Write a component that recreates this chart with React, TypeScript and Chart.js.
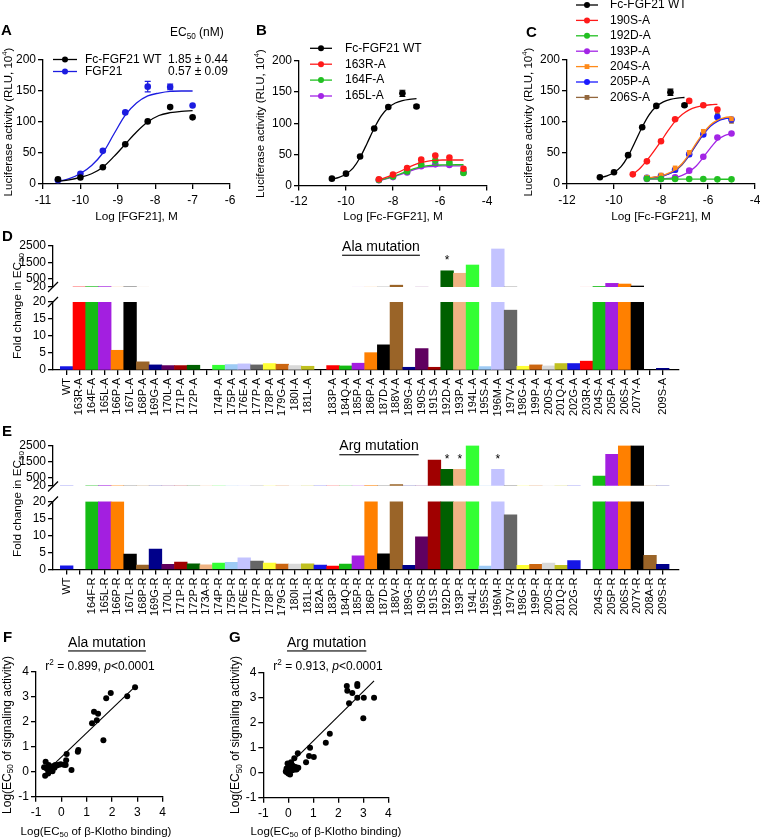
import React, { useEffect, useRef } from 'react';
import { Chart, registerables } from 'chart.js';

Chart.register(...registerables);

const FONT = "'Liberation Sans', Arial, Helvetica, sans-serif";

// ---------------- Panel A data ----------------
const A_SERIES = ['Fc-FGF21 WT', 'FGF21'];
const A_EC50 = ['1.85 ± 0.44', '0.57 ± 0.09'];
const A_DOSE = [-10.6, -10.0, -9.4, -8.8, -8.2, -7.6, -7.0];
const A_WT = [7.6, 10.5, 27, 64, 101, 124, 107.5];
const A_FGF21 = [6, 16.5, 53.5, 115.5, 157, 156.5, 126.5];
const A_FGF21_ERR = [0, 0, 0, 0, 8.5, 4.5, 0];
const A_FIT_X = [-10.6, -10.3, -10.0, -9.7, -9.4, -9.1, -8.8, -8.5, -8.2, -7.9, -7.6, -7.3, -7.0];
const A_WT_FIT = [4.5, 6.8, 10.8, 16.5, 27, 44.5, 64.3, 84, 100, 110.5, 115, 117.3, 118.3];
const A_FGF21_FIT = [4, 8.6, 17, 30, 50, 81, 111, 130.5, 142, 146.7, 149.5, 150, 150];

// ---------------- Panels B & C data ----------------
const WT_DOSE = [-10.6, -10.0, -9.4, -8.8, -8.2, -7.6, -7.0];
const WT_ACT = [11, 19, 46.5, 91.5, 126, 148, 127];
const WT_ERR = [0, 0, 0, 0, 0, 5, 2];
const WT_FIT_X = [-10.6, -10.3, -10.0, -9.7, -9.4, -9.1, -8.8, -8.5, -8.2, -7.9, -7.6, -7.3, -7.0];
const WT_FIT = [10, 13, 18.5, 28, 45, 68, 92, 112, 125, 132.5, 136.5, 138.5, 139.5];
const MUT_DOSE = [-8.6, -8.0, -7.4, -6.8, -6.2, -5.6, -5.0];
const MUT_FIT_X = [-8.6, -8.3, -8.0, -7.7, -7.4, -7.1, -6.8, -6.5, -6.2, -5.9, -5.6, -5.3, -5.0];

const B_SERIES = ['Fc-FGF21 WT', '163R-A', '164F-A', '165L-A'];
const B_163R = [10, 17.5, 28, 41.5, 48, 45, 27];
const B_164F = [9, 14.5, 22.5, 34, 40, 37, 20];
const B_165L = [8.5, 13.5, 21, 31, 34, 33, 21];
const B_163R_FIT = [9.5, 13, 17.5, 22.5, 28, 33, 37, 39.3, 40.5, 41, 41, 41, 41];
const B_164F_FIT = [8.5, 11, 14.5, 18.5, 23, 27, 30, 31.8, 32.7, 33, 33.2, 33.3, 33.3];
const B_165L_FIT = [8, 10.5, 13.5, 17.5, 21.5, 25.5, 28.5, 30.2, 31, 31.4, 31.5, 31.5, 31.5];

const C_SERIES = ['Fc-FGF21 WT', '190S-A', '192D-A', '193P-A', '204S-A', '205P-A', '206S-A'];
const C_190S_DOSE = [-9.2, -8.6, -8.0, -7.4, -6.8, -6.2, -5.6];
const C_190S = [15.6, 36.5, 69, 104.5, 134, 127, 120];
const C_190S_FIT_X = [-9.2, -8.9, -8.6, -8.3, -8.0, -7.7, -7.4, -7.1, -6.8, -6.5, -6.2, -5.9, -5.6];
const C_190S_FIT = [15.5, 25, 38, 53, 69, 86, 101, 112, 119.5, 124, 126.5, 127.8, 128.5];
const C_192D = [8.5, 8, 8, 8, 8, 7.5, 7.5];
const C_192D_FIT = [8.2, 8.2, 8.1, 8.1, 8.0, 8.0, 7.9, 7.9, 7.8, 7.8, 7.7, 7.7, 7.6];
const C_193P = [8, 8, 11, 21.5, 44, 75, 81.5];
const C_193P_FIT = [8, 8, 8.3, 9, 10.5, 14, 20, 29, 43, 58, 71, 78, 81.5];
const C_204S = [11, 14.5, 26, 51, 85, 119, 105];
const C_204S_FIT = [10, 11, 13, 17, 23, 33, 48, 66, 82, 95, 103, 107, 108.5];
const C_205P = [10, 13, 23, 48, 80, 108, 104];
const C_205P_FIT = [9.5, 10.5, 12.5, 16, 22, 32, 46, 64, 80, 93, 101, 105, 106.5];
const C_206S = [10, 13, 22, 47, 81, 112, 101];
const C_206S_FIT = [9.5, 10.5, 12.5, 16, 21.5, 31, 46, 63, 80, 94, 102, 106, 107.5];

// ---------------- Panel D data (Ala mutation) ----------------
const D_LABELS = ['WT', '163R-A', '164F-A', '165L-A', '166P-A', '167L-A', '168P-A', '169G-A', '170L-A', '171P-A', '172P-A', '',
  '174P-A', '175P-A', '176E-A', '177P-A', '178P-A', '179G-A', '180I-A', '181L-A', '',
  '183P-A', '184Q-A', '185P-A', '186P-A', '187D-A', '188V-A', '189G-A', '190S-A', '191S-A', '192D-A', '193P-A', '194L-A',
  '195S-A', '196M-A', '197V-A', '198G-A', '199P-A', '200S-A', '201Q-A', '202G-A', '203R-A', '204S-A', '205P-A', '206S-A',
  '207Y-A', '', '209S-A'];
const D_FOLD = [1.0, 20, 40, 40, 5.8, 20, 2.4, 1.5, 1.3, 1.3, 1.4, null,
  1.4, 1.6, 1.8, 1.5, 1.9, 1.7, 1.3, 1.1, null,
  1.3, 1.2, 2.0, 5.1, 7.4, 130, 0.8, 6.3, 0.8, 1000, 850, 1350,
  1.0, 2320, 17.6, 1.1, 1.5, 1.2, 1.9, 1.9, 2.6, 50, 240, 200,
  80, null, 0.5];
const D_STARS = [30];

// ---------------- Panel E data (Arg mutation) ----------------
const E_LABELS = ['WT', '', '164F-R', '165L-R', '166P-R', '167L-R', '168P-R', '169G-R', '170L-R', '171P-R', '172P-R', '173A-R',
  '174P-R', '175P-R', '176E-R', '177P-R', '178P-R', '179G-R', '180I-R', '181L-R', '182A-R',
  '183P-R', '184Q-R', '185P-R', '186P-R', '187D-R', '188V-R', '189G-R', '190S-R', '191S-R', '192D-R', '193P-R', '194L-R',
  '195S-R', '196M-R', '197V-R', '198G-R', '199P-R', '200S-R', '201Q-R', '202G-R', '', '204S-R', '205P-R', '206S-R',
  '207Y-R', '208A-R', '209S-R'];
const E_FOLD = [1.1, null, 20, 40, 20, 4.5, 1.3, 6.0, 1.5, 2.2, 1.7, 1.4,
  1.9, 2.1, 3.4, 2.5, 1.9, 1.6, 1.6, 1.7, 1.3,
  1.0, 1.6, 4.0, 40, 4.6, 100, 1.2, 9.6, 1600, 1030, 1030, 2500,
  1.0, 1030, 16.1, 1.2, 1.5, 1.9, 1.2, 2.6, null, 620, 1950, 2500,
  2500, 4.2, 1.5];
const E_STARS = [30, 31, 34];

const UPPER_TICKS = [20, 500, 1500, 2500];

// ---------------- Panels F & G data ----------------
const F_BIND = [2.91, 1.95, 1.77, 2.60, 1.29, 1.45, 1.40, 1.21, 1.66, 0.65, 0.67, 0.21, 0.19, 0.17, 0.40, -0.02, -0.62, -0.64,
  -0.68, -0.57, -0.48, -0.40, -0.30, -0.50, -0.37, -0.24, -0.52, -0.42, -0.35, -0.18, -0.60, -0.27, 0.10, -0.10, -0.45, -0.55];
const F_SIG = [3.38, 3.15, 2.94, 3.02, 2.40, 2.32, 2.06, 1.94, 1.26, 0.80, 0.87, 0.71, 0.46, 0.27, 0.07, 0.30, 0.40, -0.16,
  0.18, 0.14, 0.00, 0.20, 0.23, 0.27, 0.07, 0.27, -0.07, 0.13, 0.02, 0.25, 0.16, 0.16, 0.28, 0.28, 0.08, 0.10];
const F_FIT_X = [-0.25, 2.91];
const F_FIT_Y = [0.34, 3.40];
const F_STAT = 'r^{2} = 0.899, ~{p}<0.0001';

const G_BIND = [2.34, 2.36, 2.76, 2.76, 2.56, 3.02, 3.43, 2.76, 2.43, 3.00, 1.66, 1.50, 0.87, 1.02, 0.83, 0.71, 0.38, 0.24,
  0.11, -0.07, 0.00, 0.07, -0.03, 0.13, 0.20, 0.29, 0.40, 0.07, 0.16, 0.26, -0.07, 0.33, 0.00, 0.18, -0.10];
const G_SIG = [3.47, 3.28, 3.55, 3.47, 3.19, 3.00, 3.00, 3.00, 2.78, 2.18, 1.56, 1.20, 1.00, 0.63, 0.67, 0.42, 0.78, 0.58,
  0.42, 0.17, -0.03, -0.07, 0.37, 0.30, 0.20, 0.23, 0.20, 0.10, 0.10, 0.13, 0.03, 0.13, 0.20, 0.28, 0.05];
const G_FIT_X = [0.05, 3.43];
const G_FIT_Y = [0.33, 3.67];
const G_STAT = 'r^{2} = 0.913, ~{p}<0.0001';

// ---------------- styles ----------------
const PALETTE = ['#1616e6', '#ff0000', '#14bb14', '#a31fe0', '#ff8000', '#000000', '#9a6428', '#00008a', '#600060', '#a00000',
  '#006000', '#efb383', '#33ff33', '#9ecbf5', '#c3c3ff', '#666666', '#ffff33', '#cc6611', '#d9d9d9', '#c0c020'];
const COL = {
  black: '#000000', blue: '#1c1ce0', red: '#ff1a1a', green: '#22c022', purple: '#a325e6',
  orange: '#ff8a1a', blue2: '#1a1aff', brown: '#93673c',
};
const BAR_X_MIN = -1.08;
const BAR_X_MAX = 48.285;

type Rect = { x: number; y: number; w: number; h: number };
type Area = { l: number; t: number; r: number; b: number };
type Run = { t: string; sub?: boolean; sup?: boolean; it?: boolean };
type TextItem = { s: string; x: number; y: number; size: number; bold?: boolean; align?: string; rot?: boolean; underline?: boolean };

function runs(s: string): Run[] {
  const out: Run[] = [];
  const re = /([_^~])\{([^}]*)\}/g;
  let last = 0;
  let m: any;
  while ((m = re.exec(s))) {
    if (m.index > last) out.push({ t: s.slice(last, m.index) });
    out.push({ t: m[2], sub: m[1] === '_', sup: m[1] === '^', it: m[1] === '~' });
    last = re.lastIndex;
  }
  if (last < s.length) out.push({ t: s.slice(last) });
  return out;
}

function drawText(ctx: CanvasRenderingContext2D, item: TextItem, ox: number, oy: number) {
  const rs = runs(item.s);
  ctx.save();
  ctx.translate(item.x - ox, item.y - oy);
  if (item.rot) ctx.rotate(-Math.PI / 2);
  ctx.fillStyle = '#000';
  ctx.textBaseline = 'middle';
  ctx.textAlign = 'left';
  const fontOf = (r: Run) =>
    `${r.it ? 'italic ' : ''}${item.bold ? 'bold ' : ''}${r.sub || r.sup ? item.size * 0.68 : item.size}px ${FONT}`;
  let total = 0;
  const widths = rs.map((r) => {
    ctx.font = fontOf(r);
    const w = ctx.measureText(r.t).width;
    total += w;
    return w;
  });
  let x = item.align === 'center' ? -total / 2 : item.align === 'right' ? -total : 0;
  const start = x;
  rs.forEach((r, i) => {
    ctx.font = fontOf(r);
    const dy = r.sub ? item.size * 0.3 : r.sup ? -item.size * 0.33 : 0;
    ctx.fillText(r.t, x, dy);
    x += widths[i];
  });
  if (item.underline) ctx.fillRect(start, item.size * 0.55, total, 1.1);
  ctx.restore();
}

function deco(rect: Rect, items: TextItem[], extra?: (chart: any, ctx: CanvasRenderingContext2D) => void) {
  return {
    id: 'deco',
    afterDraw(chart: any) {
      const ctx = chart.ctx;
      if (extra) extra(chart, ctx);
      items.forEach((it) => drawText(ctx, it, rect.x, rect.y));
    },
  };
}

const BASE = {
  responsive: false,
  animation: false,
  devicePixelRatio: 1,
  events: [],
  plugins: { legend: { display: false }, tooltip: { enabled: false } },
};

function xScale(extra: any, height: number) {
  const { ticks, ...rest } = extra;
  return {
    type: 'linear',
    position: 'bottom',
    offset: false,
    grid: { display: true, drawOnChartArea: false, drawTicks: true, tickLength: 5, color: '#000', lineWidth: 1.3, offset: false },
    border: { display: true, color: '#000', width: 1.3 },
    ticks: {
      color: '#000', font: { family: FONT, size: 12 }, padding: 3, maxRotation: 0, autoSkip: false,
      callback: (v: any) => String(v), ...(ticks || {}),
    },
    afterFit: (s: any) => { s.height = height; },
    ...rest,
  };
}

function yScale(extra: any, width: number) {
  const { ticks, ...rest } = extra;
  return {
    type: 'linear',
    position: 'left',
    grid: { display: true, drawOnChartArea: false, drawTicks: true, tickLength: 5, color: '#000', lineWidth: 1.3 },
    border: { display: true, color: '#000', width: 1.3 },
    ticks: { color: '#000', font: { family: FONT, size: 12 }, padding: 2, autoSkip: false, callback: (v: any) => String(v), ...(ticks || {}) },
    afterFit: (s: any) => { s.width = width; },
    ...rest,
  };
}

type Series = { label: string; color: string; px: number[]; py: number[]; cx: number[]; cy: number[]; err?: number[]; shape?: string };

function curveChart(rect: Rect, area: Area, xr: number[], series: Series[], legend: any, texts: TextItem[]) {
  const datasets: any[] = [];
  series.forEach((s) => {
    datasets.push({
      label: s.label, data: s.px.map((x, i) => ({ x, y: s.py[i] })), showLine: false,
      pointRadius: 3.3, pointStyle: s.shape || 'circle', pointBackgroundColor: s.color, pointBorderColor: s.color,
      pointBorderWidth: 0, borderColor: s.color,
    });
    datasets.push({
      label: s.label + ' fit', data: s.cx.map((x, i) => ({ x, y: s.cy[i] })), showLine: true, pointRadius: 0,
      borderColor: s.color, borderWidth: 1.3, cubicInterpolationMode: 'monotone', fill: false,
    });
  });
  const extra = (chart: any, ctx: CanvasRenderingContext2D) => {
    const xs = chart.scales.x;
    const ys = chart.scales.y;
    series.forEach((s) => {
      if (!s.err) return;
      s.err.forEach((e, i) => {
        if (!e) return;
        const x = xs.getPixelForValue(s.px[i]);
        const y1 = ys.getPixelForValue(s.py[i] + e);
        const y2 = ys.getPixelForValue(s.py[i] - e);
        ctx.save();
        ctx.strokeStyle = s.color;
        ctx.lineWidth = 1.2;
        ctx.beginPath();
        ctx.moveTo(x, y1); ctx.lineTo(x, y2);
        ctx.moveTo(x - 3, y1); ctx.lineTo(x + 3, y1);
        ctx.moveTo(x - 3, y2); ctx.lineTo(x + 3, y2);
        ctx.stroke();
        ctx.restore();
      });
    });
    series.forEach((s, k) => {
      const y = legend.y0 + k * legend.dy - rect.y;
      const x1 = legend.x1 - rect.x;
      const x2 = legend.x2 - rect.x;
      ctx.save();
      ctx.strokeStyle = s.color;
      ctx.lineWidth = 1.3;
      ctx.beginPath(); ctx.moveTo(x1, y); ctx.lineTo(x2, y); ctx.stroke();
      ctx.fillStyle = s.color;
      const xm = (x1 + x2) / 2;
      if (s.shape === 'rect') ctx.fillRect(xm - 2.4, y - 2.4, 4.8, 4.8);
      else { ctx.beginPath(); ctx.arc(xm, y, 3, 0, Math.PI * 2); ctx.fill(); }
      ctx.fillStyle = '#000';
      ctx.font = `12px ${FONT}`;
      ctx.textBaseline = 'middle';
      ctx.textAlign = 'left';
      ctx.fillText(s.label, legend.tx - rect.x, y);
      ctx.restore();
    });
  };
  return {
    type: 'line',
    data: { datasets },
    options: {
      ...BASE,
      layout: { padding: { left: 0, top: area.t - rect.y, right: rect.x + rect.w - area.r, bottom: 0 } },
      scales: {
        x: xScale({ min: xr[0], max: xr[1], ticks: { stepSize: xr[2], padding: 4 } }, rect.y + rect.h - area.b),
        y: yScale({ min: 0, max: 200, ticks: { stepSize: 50 } }, area.l - rect.x),
      },
    },
    plugins: [deco(rect, texts, extra)],
  };
}

function barChart(rect: Rect, area: Area, labels: string[], values: (number | null)[], low: boolean, texts: TextItem[], stars: number[]) {
  const extra = (chart: any, ctx: CanvasRenderingContext2D) => {
    ctx.save();
    ctx.strokeStyle = '#000';
    ctx.fillStyle = '#000';
    ctx.lineWidth = 1.3;
    if (low) {
      const ax = area.l - rect.x;
      const y1 = area.t - rect.y;
      const y0 = y1 - 15;
      ctx.beginPath();
      ctx.moveTo(ax - 5, y0 + 5); ctx.lineTo(ax + 5, y0 - 5);
      ctx.moveTo(ax - 5, y1 + 5); ctx.lineTo(ax + 5, y1 - 5);
      ctx.stroke();
    } else {
      const xs = chart.scales.x;
      const ys = chart.scales.y;
      ctx.font = `12px ${FONT}`;
      ctx.textAlign = 'center';
      ctx.textBaseline = 'middle';
      stars.forEach((i) => {
        const v = values[i] as number;
        ctx.fillText('*', xs.getPixelForValue(i), ys.getPixelForValue(v) - 10);
      });
    }
    ctx.restore();
  };
  const xs = xScale({
    min: BAR_X_MIN, max: BAR_X_MAX, display: low,
    ticks: { font: { family: FONT, size: 11 }, maxRotation: 90, minRotation: 90, padding: 3, callback: (v: any) => labels[v] ?? '' },
    afterBuildTicks: (s: any) => { s.ticks = labels.map((_, i) => ({ value: i })); },
  }, low ? rect.y + rect.h - area.b : 0);
  const ys = low
    ? yScale({ min: 0, max: 20, ticks: { stepSize: 5 } }, area.l - rect.x)
    : yScale({ min: 20, max: 2500, afterBuildTicks: (s: any) => { s.ticks = UPPER_TICKS.map((v) => ({ value: v })); } }, area.l - rect.x);
  return {
    type: 'bar',
    data: {
      datasets: [{
        data: values.map((v, i) => ({ x: i, y: v })),
        backgroundColor: values.map((_, i) => PALETTE[i % PALETTE.length]),
        borderWidth: 0, barPercentage: 1, categoryPercentage: 1, clip: 0,
      }],
    },
    options: {
      ...BASE,
      layout: { padding: { left: 0, top: area.t - rect.y, right: rect.x + rect.w - area.r, bottom: low ? 0 : rect.y + rect.h - area.b } },
      scales: { x: xs, y: ys },
    },
    plugins: [deco(rect, texts, extra)],
  };
}

function scatterChart(rect: Rect, area: Area, px: number[], py: number[], lx: number[], ly: number[], texts: TextItem[]) {
  return {
    type: 'scatter',
    data: {
      datasets: [
        { data: px.map((x, i) => ({ x, y: py[i] })), pointRadius: 3, pointBackgroundColor: '#000', pointBorderWidth: 0, showLine: false },
        { data: lx.map((x, i) => ({ x, y: ly[i] })), showLine: true, pointRadius: 0, borderColor: '#000', borderWidth: 1.1 },
      ],
    },
    options: {
      ...BASE,
      layout: { padding: { left: 0, top: area.t - rect.y, right: rect.x + rect.w - area.r, bottom: 0 } },
      scales: {
        x: xScale({ min: -1, max: 4, ticks: { stepSize: 1, padding: 4 } }, rect.y + rect.h - area.b),
        y: yScale({ min: -1, max: 4, ticks: { stepSize: 1 } }, area.l - rect.x),
      },
    },
    plugins: [deco(rect, texts)],
  };
}

const LUC = 'Luciferase activity (RLU, 10^{4})';

const R_A: Rect = { x: 0, y: 0, w: 250, h: 240 };
const R_B: Rect = { x: 250, y: 0, w: 255, h: 240 };
const R_C: Rect = { x: 505, y: 0, w: 270, h: 240 };
const R_DL: Rect = { x: 0, y: 225, w: 700, h: 200 };
const R_DH: Rect = { x: 0, y: 225, w: 700, h: 75 };
const R_EL: Rect = { x: 0, y: 420, w: 700, h: 200 };
const R_EH: Rect = { x: 0, y: 420, w: 700, h: 75 };
const R_F: Rect = { x: 0, y: 625, w: 225, h: 213 };
const R_G: Rect = { x: 225, y: 625, w: 200, h: 213 };

const SPECS: { rect: Rect; make: () => any }[] = [
  {
    rect: R_A,
    make: () => curveChart(R_A, { l: 43, t: 60, r: 230, b: 184 }, [-11, -6, 1], [
      { label: A_SERIES[0], color: COL.black, px: A_DOSE, py: A_WT, cx: A_FIT_X, cy: A_WT_FIT },
      { label: A_SERIES[1], color: COL.blue, px: A_DOSE, py: A_FGF21, cx: A_FIT_X, cy: A_FGF21_FIT, err: A_FGF21_ERR },
    ], { x1: 53, x2: 77, tx: 85, y0: 59.5, dy: 12 }, [
      { s: 'A', x: 1, y: 31, size: 15, bold: true },
      { s: 'EC_{50} (nM)', x: 170, y: 33, size: 12 },
      { s: A_EC50[0], x: 168, y: 59.5, size: 12 },
      { s: A_EC50[1], x: 168, y: 71.5, size: 12 },
      { s: LUC, x: 9, y: 122, size: 11.5, rot: true, align: 'center' },
      { s: 'Log [FGF21], M', x: 136.5, y: 217, size: 11.8, align: 'center' },
    ]),
  },
  {
    rect: R_B,
    make: () => curveChart(R_B, { l: 299, t: 61, r: 487, b: 185.5 }, [-12, -4, 2], [
      { label: B_SERIES[0], color: COL.black, px: WT_DOSE, py: WT_ACT, cx: WT_FIT_X, cy: WT_FIT, err: WT_ERR },
      { label: B_SERIES[1], color: COL.red, px: MUT_DOSE, py: B_163R, cx: MUT_FIT_X, cy: B_163R_FIT },
      { label: B_SERIES[2], color: COL.green, px: MUT_DOSE, py: B_164F, cx: MUT_FIT_X, cy: B_164F_FIT },
      { label: B_SERIES[3], color: COL.purple, px: MUT_DOSE, py: B_165L, cx: MUT_FIT_X, cy: B_165L_FIT },
    ], { x1: 310, x2: 332, tx: 345, y0: 48.3, dy: 15.9 }, [
      { s: 'B', x: 256, y: 31, size: 15, bold: true },
      { s: LUC, x: 261, y: 123.5, size: 11.5, rot: true, align: 'center' },
      { s: 'Log [Fc-FGF21], M', x: 393, y: 217, size: 11.8, align: 'center' },
    ]),
  },
  {
    rect: R_C,
    make: () => curveChart(R_C, { l: 567, t: 60, r: 755, b: 184 }, [-12, -4, 2], [
      { label: C_SERIES[0], color: COL.black, px: WT_DOSE, py: WT_ACT, cx: WT_FIT_X, cy: WT_FIT, err: WT_ERR },
      { label: C_SERIES[1], color: COL.red, px: C_190S_DOSE, py: C_190S, cx: C_190S_FIT_X, cy: C_190S_FIT },
      { label: C_SERIES[2], color: COL.green, px: MUT_DOSE, py: C_192D, cx: MUT_FIT_X, cy: C_192D_FIT },
      { label: C_SERIES[3], color: COL.purple, px: MUT_DOSE, py: C_193P, cx: MUT_FIT_X, cy: C_193P_FIT },
      { label: C_SERIES[4], color: COL.orange, px: MUT_DOSE, py: C_204S, cx: MUT_FIT_X, cy: C_204S_FIT, shape: 'rect' },
      { label: C_SERIES[5], color: COL.blue2, px: MUT_DOSE, py: C_205P, cx: MUT_FIT_X, cy: C_205P_FIT },
      { label: C_SERIES[6], color: COL.brown, px: MUT_DOSE, py: C_206S, cx: MUT_FIT_X, cy: C_206S_FIT, shape: 'rect' },
    ], { x1: 576, x2: 598, tx: 610, y0: 5, dy: 15.4 }, [
      { s: 'C', x: 526, y: 33, size: 15, bold: true },
      { s: LUC, x: 529, y: 122, size: 11.5, rot: true, align: 'center' },
      { s: 'Log [Fc-FGF21], M', x: 661, y: 217, size: 11.8, align: 'center' },
    ]),
  },
  {
    rect: R_DL,
    make: () => barChart(R_DL, { l: 53, t: 302, r: 679, b: 370 }, D_LABELS, D_FOLD, true, [
      { s: 'D', x: 2, y: 236.5, size: 15, bold: true },
      { s: 'Ala mutation', x: 381, y: 247, size: 14, align: 'center', underline: true },
      { s: 'Fold change in EC_{50}', x: 18, y: 306, size: 11.8, rot: true, align: 'center' },
    ], D_STARS),
  },
  {
    rect: R_DH,
    make: () => barChart(R_DH, { l: 53, t: 246, r: 679, b: 287 }, D_LABELS, D_FOLD, false, [], D_STARS),
  },
  {
    rect: R_EL,
    make: () => barChart(R_EL, { l: 53, t: 501.5, r: 679, b: 569.5 }, E_LABELS, E_FOLD, true, [
      { s: 'E', x: 2, y: 431.5, size: 15, bold: true },
      { s: 'Arg mutation', x: 379, y: 446.5, size: 14, align: 'center', underline: true },
      { s: 'Fold change in EC_{50}', x: 18, y: 504, size: 11.8, rot: true, align: 'center' },
    ], E_STARS),
  },
  {
    rect: R_EH,
    make: () => barChart(R_EH, { l: 53, t: 445.5, r: 679, b: 486.5 }, E_LABELS, E_FOLD, false, [], E_STARS),
  },
  {
    rect: R_F,
    make: () => scatterChart(R_F, { l: 36, t: 671.7, r: 162.7, b: 796.7 }, F_BIND, F_SIG, F_FIT_X, F_FIT_Y, [
      { s: 'F', x: 3, y: 638, size: 15, bold: true },
      { s: 'Ala mutation', x: 107, y: 642.7, size: 14, align: 'center', underline: true },
      { s: F_STAT, x: 100, y: 666.7, size: 12, align: 'center' },
      { s: 'Log(EC_{50} of signaling activity)', x: 7.5, y: 735, size: 12, rot: true, align: 'center' },
      { s: 'Log(EC_{50} of β-Klotho binding)', x: 96, y: 831.5, size: 11.5, align: 'center' },
    ]),
  },
  {
    rect: R_G,
    make: () => scatterChart(R_G, { l: 263.3, t: 672.7, r: 388.3, b: 797.7 }, G_BIND, G_SIG, G_FIT_X, G_FIT_Y, [
      { s: 'G', x: 229, y: 638, size: 15, bold: true },
      { s: 'Arg mutation', x: 326.7, y: 642.7, size: 14, align: 'center', underline: true },
      { s: G_STAT, x: 328, y: 667, size: 12, align: 'center' },
      { s: 'Log(EC_{50} of signaling activity)', x: 236, y: 735, size: 12, rot: true, align: 'center' },
      { s: 'Log(EC_{50} of β-Klotho binding)', x: 326, y: 831.5, size: 11.5, align: 'center' },
    ]),
  },
];

export default function App() {
  const refs = useRef<(HTMLCanvasElement | null)[]>([]);
  useEffect(() => {
    const charts = SPECS.map((s, i) => new Chart(refs.current[i] as HTMLCanvasElement, s.make()));
    return () => charts.forEach((c) => c.destroy());
  }, []);
  return (
    <div style={{ position: 'absolute', left: 0, top: 0, width: 760, height: 838, overflow: 'hidden', background: '#fff' }}>
      {SPECS.map((s, i) => (
        <canvas
          key={i}
          ref={(el) => { refs.current[i] = el; }}
          width={s.rect.w}
          height={s.rect.h}
          style={{ position: 'absolute', left: s.rect.x, top: s.rect.y, width: s.rect.w, height: s.rect.h }}
        />
      ))}
    </div>
  );
}
